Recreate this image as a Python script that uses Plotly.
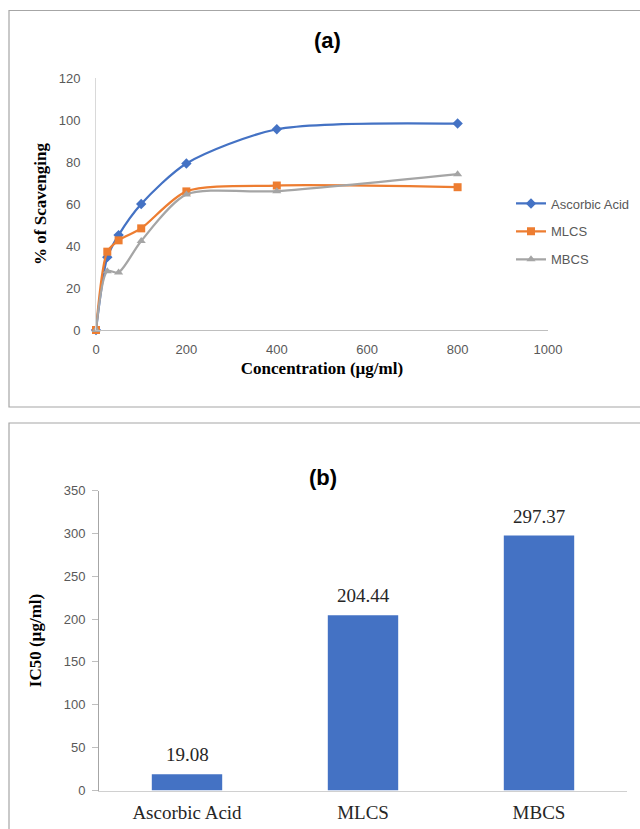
import plotly.graph_objects as go

# ---- data ----
conc = [0, 25, 50, 100, 200, 400, 800]
ascorbic = [0, 34.7, 45.2, 60.0, 79.3, 95.6, 98.3]
mlcs = [0, 37.3, 42.7, 48.4, 66.0, 68.8, 68.0]
mbcs = [0, 28.0, 27.4, 42.4, 64.5, 66.1, 74.2]

bar_cats = ["Ascorbic Acid", "MLCS", "MBCS"]
ic50 = [19.08, 204.44, 297.37]

x_ticks_a = [0, 200, 400, 600, 800, 1000]
y_ticks_a = [0, 20, 40, 60, 80, 100, 120]
y_ticks_b = [0, 50, 100, 150, 200, 250, 300, 350]

W, H = 640, 829
BLUE, ORANGE, GRAY = "#4472C4", "#ED7D31", "#A5A5A5"
SANS = "Liberation Sans"
SERIF = "Liberation Serif"
TICKC = "#595959"


def px(x):
    return x / W


def py(y):
    return (H - y) / H


fig = go.Figure()

series = [("Ascorbic Acid", ascorbic, BLUE, "diamond", 8),
          ("MLCS", mlcs, ORANGE, "square", 8),
          ("MBCS", mbcs, GRAY, "triangle-up", 8)]
for name, vals, col, sym, sz in series:
    fig.add_trace(go.Scatter(
        x=conc, y=vals, name=name, mode="lines+markers",
        line=dict(color=col, width=2.25, shape="spline", smoothing=0.75),
        marker=dict(color=col, symbol=sym, size=sz),
        xaxis="x", yaxis="y", legendgroup=name, cliponaxis=False))

fig.add_trace(go.Bar(
    x=bar_cats, y=ic50, marker=dict(color=BLUE, line=dict(width=0)),
    showlegend=False, xaxis="x2", yaxis="y2"))

annotations = [
    dict(text="<b>(a)</b>", x=px(327), y=py(40), xref="paper", yref="paper",
         showarrow=False, font=dict(family=SANS, size=22, color="black"),
         xanchor="center", yanchor="middle"),
    dict(text="<b>(b)</b>", x=px(323), y=py(477), xref="paper", yref="paper",
         showarrow=False, font=dict(family=SANS, size=22, color="black"),
         xanchor="center", yanchor="middle"),
]
for c, v in zip(bar_cats, ic50):
    annotations.append(dict(text=f"{v:.2f}", x=c, y=v, xref="x2", yref="y2",
                            showarrow=False, yanchor="bottom", yshift=7,
                            font=dict(family=SERIF, size=19, color="#262626")))

fig.update_layout(
    width=W, height=H,
    margin=dict(l=0, r=0, t=0, b=0, pad=0, autoexpand=False),
    paper_bgcolor="white", plot_bgcolor="white",
    bargap=0.6,
    xaxis=dict(domain=[px(96), px(548)], range=[0, 1000], tickvals=x_ticks_a,
               showgrid=False, zeroline=False, showline=True, linecolor="#BFBFBF",
               linewidth=1, ticks="", tickfont=dict(family=SANS, size=13, color=TICKC),
               ticklabelstandoff=7, automargin=False,
               title=dict(text="<b>Concentration (µg/ml)</b>", standoff=6,
                          font=dict(family=SERIF, size=17, color="black")),
               anchor="y"),
    yaxis=dict(domain=[py(330), py(78)], range=[0, 120], tickvals=y_ticks_a,
               showgrid=False, zeroline=False, showline=True, linecolor="#D9D9D9",
               linewidth=1, ticks="", tickfont=dict(family=SANS, size=13, color=TICKC),
               ticklabelstandoff=12, automargin=False,
               title=dict(text="<b>% of Scavenging</b>", standoff=7,
                          font=dict(family=SERIF, size=17, color="black")),
               anchor="x"),
    xaxis2=dict(domain=[px(99), px(627)], showgrid=False, zeroline=False,
                showline=True, linecolor="#D0D0D0", linewidth=1, ticks="",
                tickfont=dict(family=SERIF, size=19, color="#262626"),
                ticklabelstandoff=5, automargin=False, anchor="y2"),
    yaxis2=dict(domain=[py(790.5), py(490.5)], range=[0, 350], tickvals=y_ticks_b,
                showgrid=False, zeroline=False, showline=True, linecolor="#A6A6A6",
                linewidth=1, ticks="outside", ticklen=6, tickcolor="#BFBFBF",
                tickfont=dict(family=SANS, size=13, color=TICKC),
                ticklabelstandoff=4, automargin=False,
                title=dict(text="<b>IC50 (µg/ml)</b>", standoff=17,
                           font=dict(family=SERIF, size=17, color="black")),
                anchor="x2"),
    legend=dict(x=px(511), y=py(188.5), xanchor="left", yanchor="top",
                font=dict(family=SANS, size=13, color=TICKC),
                tracegroupgap=8, bgcolor="rgba(0,0,0,0)", itemwidth=30),
    annotations=annotations,
    shapes=[
        dict(type="rect", xref="paper", yref="paper", x0=px(9), x1=px(660),
             y0=py(407), y1=py(10.5), line=dict(color="#A6A6A6", width=1.2)),
        dict(type="rect", xref="paper", yref="paper", x0=px(9), x1=px(660),
             y0=py(850), y1=py(423), line=dict(color="#A6A6A6", width=1.2)),
    ],
)

fig.write_html("out.html")
